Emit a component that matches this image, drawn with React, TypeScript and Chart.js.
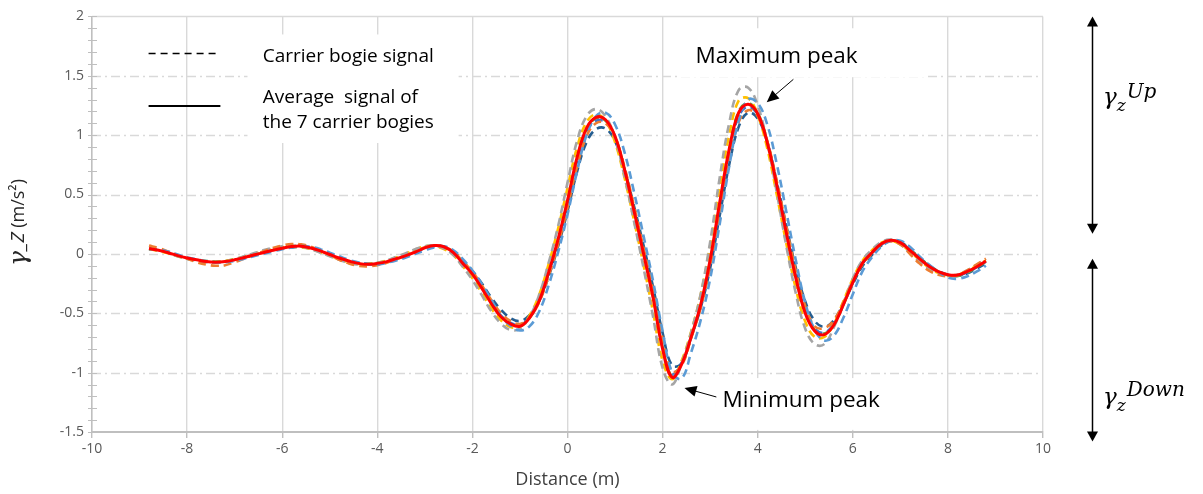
import React, { useEffect, useRef } from "react";
import { Chart, registerables } from "chart.js";

Chart.register(...registerables);

const FONT = "'Open Sans', 'Noto Sans', sans-serif";
const SERIF = "'DejaVu Serif', 'Liberation Serif', serif";

const distance = [
  -8.8, -8.6, -8.4, -8.2, -8, -7.8, -7.6, -7.4, -7.2, -7, -6.8, -6.6, -6.4, -6.2, -6, -5.8,
  -5.6, -5.4, -5.2, -5, -4.8, -4.6, -4.4, -4.2, -4, -3.8, -3.6, -3.4, -3.2, -3, -2.8, -2.6,
  -2.4, -2.2, -2, -1.8, -1.6, -1.4, -1.2, -1, -0.8, -0.6, -0.4, -0.2,
  0, 0.2, 0.4, 0.6, 0.8, 1, 1.2, 1.4, 1.6, 1.8, 2, 2.2,
  2.4, 2.6, 2.8, 3, 3.2, 3.4, 3.6, 3.8, 4, 4.2, 4.4, 4.6,
  4.8, 5, 5.2, 5.4, 5.6, 5.8, 6, 6.2, 6.4, 6.6, 6.8, 7,
  7.2, 7.4, 7.6, 7.8, 8, 8.2, 8.4, 8.6, 8.8,
];

const bogie1 = [
  0.04, 0.035, 0.02, -0.005, -0.03, -0.045, -0.06, -0.07, -0.07, -0.06, -0.04, -0.02, 0.0, 0.02, 0.04, 0.055,
  0.065, 0.06, 0.04, 0.01, -0.02, -0.05, -0.07, -0.085, -0.09, -0.075, -0.055, -0.03, 0.0, 0.03, 0.055, 0.065,
  0.03, -0.045, -0.14, -0.255, -0.39, -0.52, -0.605, -0.645, -0.61, -0.49, -0.27, 0.01,
  0.33, 0.69, 1.0, 1.16, 1.19, 1.09, 0.855, 0.52, 0.15, -0.23, -0.65, -1.0,
  -1.05, -0.83, -0.56, -0.21, 0.25, 0.735, 1.12, 1.3, 1.27, 1.09, 0.76, 0.36,
  -0.05, -0.41, -0.64, -0.73, -0.69, -0.54, -0.34, -0.15, -0.03, 0.06, 0.11, 0.11,
  0.06, -0.02, -0.09, -0.15, -0.2, -0.21, -0.19, -0.15, -0.1,
];

const bogie2 = [
  0.07, 0.05, 0.02, -0.01, -0.04, -0.07, -0.09, -0.1, -0.095, -0.07, -0.04, -0.01, 0.02, 0.05, 0.07, 0.083,
  0.08, 0.06, 0.025, -0.01, -0.05, -0.08, -0.1, -0.105, -0.095, -0.075, -0.045, -0.015, 0.02, 0.055, 0.07, 0.055,
  0.02, -0.065, -0.15, -0.265, -0.39, -0.5, -0.565, -0.59, -0.535, -0.41, -0.19, 0.075,
  0.39, 0.735, 0.99, 1.1, 1.1, 0.98, 0.73, 0.4, 0.05, -0.305, -0.715, -0.99,
  -0.94, -0.71, -0.455, -0.105, 0.35, 0.79, 1.11, 1.21, 1.16, 0.95, 0.615, 0.235,
  -0.14, -0.44, -0.61, -0.625, -0.56, -0.41, -0.235, -0.09, 0.0, 0.075, 0.105, 0.08,
  0.0, -0.08, -0.14, -0.175, -0.19, -0.18, -0.14, -0.09, -0.04,
];

const bogie3 = [
  0.05, 0.035, 0.01, -0.02, -0.04, -0.06, -0.07, -0.075, -0.065, -0.045, -0.02, 0.005, 0.03, 0.05, 0.065, 0.07,
  0.06, 0.04, 0.01, -0.02, -0.05, -0.075, -0.09, -0.09, -0.075, -0.055, -0.025, 0.005, 0.04, 0.065, 0.07, 0.045,
  -0.01, -0.11, -0.22, -0.35, -0.485, -0.586, -0.64, -0.63, -0.53, -0.35, -0.08, 0.23,
  0.6, 0.95, 1.16, 1.22, 1.16, 0.97, 0.65, 0.27, -0.12, -0.53, -0.96, -1.1,
  -0.92, -0.66, -0.34, 0.1, 0.64, 1.1, 1.38, 1.4, 1.25, 0.94, 0.52, 0.07,
  -0.33, -0.63, -0.76, -0.76, -0.62, -0.42, -0.21, -0.055, 0.035, 0.1, 0.12, 0.08,
  0.01, -0.06, -0.12, -0.16, -0.18, -0.175, -0.14, -0.095, -0.05,
];

const bogie4 = [
  0.04, 0.025, 0.005, -0.02, -0.04, -0.055, -0.065, -0.07, -0.06, -0.045, -0.025, 0.0, 0.02, 0.04, 0.055, 0.06,
  0.055, 0.04, 0.015, -0.015, -0.045, -0.07, -0.085, -0.085, -0.075, -0.055, -0.03, 0.0, 0.035, 0.065, 0.065, 0.04,
  -0.01, -0.105, -0.205, -0.33, -0.46, -0.56, -0.615, -0.615, -0.52, -0.35, -0.09, 0.21,
  0.555, 0.895, 1.11, 1.175, 1.12, 0.94, 0.64, 0.28, -0.095, -0.49, -0.9, -1.055,
  -0.9, -0.655, -0.345, 0.07, 0.565, 1.0, 1.29, 1.31, 1.17, 0.89, 0.5, 0.09,
  -0.29, -0.57, -0.7, -0.7, -0.59, -0.4, -0.21, -0.06, 0.03, 0.095, 0.11, 0.08,
  0.02, -0.05, -0.115, -0.16, -0.18, -0.175, -0.145, -0.1, -0.055,
];

const bogie5 = [
  0.04, 0.03, 0.012, -0.012, -0.035, -0.052, -0.066, -0.07, -0.064, -0.048, -0.028, -0.008, 0.012, 0.032, 0.048, 0.06,
  0.062, 0.048, 0.022, -0.008, -0.038, -0.062, -0.08, -0.086, -0.078, -0.062, -0.038, -0.012, 0.018, 0.05, 0.068, 0.058,
  0.012, -0.075, -0.165, -0.285, -0.41, -0.52, -0.58, -0.6, -0.535, -0.4, -0.165, 0.11,
  0.43, 0.78, 1.03, 1.12, 1.11, 0.98, 0.71, 0.37, 0.02, -0.35, -0.77, -1.01,
  -0.92, -0.7, -0.44, -0.07, 0.4, 0.85, 1.16, 1.24, 1.17, 0.94, 0.59, 0.2,
  -0.18, -0.48, -0.63, -0.665, -0.59, -0.43, -0.245, -0.085, 0.005, 0.08, 0.11, 0.095,
  0.03, -0.04, -0.105, -0.15, -0.178, -0.182, -0.155, -0.113, -0.063,
];

const bogie6 = [
  0.045, 0.03, 0.01, -0.015, -0.035, -0.05, -0.06, -0.065, -0.06, -0.045, -0.025, -0.005, 0.015, 0.035, 0.05, 0.06,
  0.06, 0.045, 0.02, -0.01, -0.04, -0.065, -0.08, -0.085, -0.08, -0.06, -0.035, -0.01, 0.02, 0.05, 0.068, 0.058,
  0.01, -0.08, -0.17, -0.29, -0.42, -0.53, -0.59, -0.61, -0.54, -0.4, -0.165, 0.115,
  0.44, 0.8, 1.05, 1.14, 1.12, 0.99, 0.71, 0.37, 0.01, -0.36, -0.79, -1.03,
  -0.93, -0.7, -0.43, -0.06, 0.42, 0.88, 1.2, 1.27, 1.19, 0.95, 0.59, 0.19,
  -0.19, -0.49, -0.64, -0.67, -0.6, -0.43, -0.24, -0.085, 0.01, 0.085, 0.115, 0.095,
  0.035, -0.035, -0.1, -0.15, -0.18, -0.185, -0.16, -0.115, -0.065,
];

const bogie7 = [
  0.04, 0.03, 0.01, -0.015, -0.04, -0.055, -0.065, -0.07, -0.065, -0.05, -0.03, -0.01, 0.01, 0.03, 0.045, 0.055,
  0.06, 0.05, 0.025, -0.005, -0.035, -0.06, -0.075, -0.085, -0.08, -0.065, -0.04, -0.015, 0.015, 0.045, 0.065, 0.06,
  0.02, -0.06, -0.145, -0.25, -0.37, -0.47, -0.54, -0.565, -0.515, -0.4, -0.195, 0.06,
  0.36, 0.69, 0.94, 1.05, 1.055, 0.95, 0.71, 0.4, 0.07, -0.28, -0.665, -0.94,
  -0.92, -0.7, -0.455, -0.12, 0.32, 0.75, 1.07, 1.19, 1.14, 0.94, 0.61, 0.24,
  -0.115, -0.4, -0.565, -0.615, -0.56, -0.42, -0.255, -0.105, -0.01, 0.07, 0.11, 0.1,
  0.04, -0.03, -0.095, -0.145, -0.175, -0.185, -0.165, -0.125, -0.08,
];

const average = [
  0.045, 0.03, 0.01, -0.015, -0.035, -0.05, -0.065, -0.07, -0.065, -0.05, -0.03, -0.01, 0.01, 0.03, 0.048, 0.062,
  0.065, 0.05, 0.025, -0.005, -0.035, -0.06, -0.08, -0.088, -0.08, -0.065, -0.04, -0.015, 0.015, 0.05, 0.07, 0.06,
  0.01, -0.08, -0.17, -0.29, -0.42, -0.53, -0.59, -0.61, -0.54, -0.4, -0.16, 0.12,
  0.45, 0.81, 1.06, 1.15, 1.13, 0.99, 0.71, 0.36, 0.0, -0.37, -0.8, -1.04,
  -0.93, -0.7, -0.43, -0.05, 0.43, 0.88, 1.19, 1.26, 1.18, 0.94, 0.58, 0.18,
  -0.2, -0.5, -0.65, -0.68, -0.6, -0.43, -0.24, -0.08, 0.01, 0.085, 0.115, 0.095,
  0.03, -0.04, -0.105, -0.15, -0.175, -0.178, -0.15, -0.11, -0.06,
];

const bogieSeries = [bogie1, bogie2, bogie3, bogie4, bogie5, bogie6, bogie7];
const bogieNames = ["Bogie 1", "Bogie 2", "Bogie 3", "Bogie 4", "Bogie 5", "Bogie 6", "Bogie 7"];
const bogieColors = ["#5B9BD5", "#ED7D31", "#A5A5A5", "#FFC000", "#4472C4", "#70AD47", "#255E91"];

const legendLabels = ["Carrier bogie signal", "Average  signal of", "the 7 carrier bogies"];
const maxLabel = "Maximum peak";
const minLabel = "Minimum peak";

function arrowHead(ctx: CanvasRenderingContext2D, x1: number, y1: number, x2: number, y2: number, len: number, half: number) {
  const a = Math.atan2(y2 - y1, x2 - x1);
  const bx = x2 - len * Math.cos(a);
  const by = y2 - len * Math.sin(a);
  ctx.beginPath();
  ctx.moveTo(x2, y2);
  ctx.lineTo(bx + half * Math.sin(a), by - half * Math.cos(a));
  ctx.lineTo(bx - half * Math.sin(a), by + half * Math.cos(a));
  ctx.closePath();
  ctx.fill();
}

function arrow(ctx: CanvasRenderingContext2D, x1: number, y1: number, x2: number, y2: number, len: number, half: number, both: boolean, lw: number) {
  const a = Math.atan2(y2 - y1, x2 - x1);
  const sx = both ? x1 + (len - 1) * Math.cos(a) : x1;
  const sy = both ? y1 + (len - 1) * Math.sin(a) : y1;
  const ex = x2 - (len - 1) * Math.cos(a);
  const ey = y2 - (len - 1) * Math.sin(a);
  ctx.lineWidth = lw;
  ctx.beginPath();
  ctx.moveTo(sx, sy);
  ctx.lineTo(ex, ey);
  ctx.stroke();
  arrowHead(ctx, x1, y1, x2, y2, len, half);
  if (both) arrowHead(ctx, x2, y2, x1, y1, len, half);
}

const overlayPlugin = {
  id: "overlay",
  beforeDraw(chart: any) {
    const { ctx, width, height } = chart;
    ctx.save();
    ctx.fillStyle = "#ffffff";
    ctx.fillRect(0, 0, width, height);
    ctx.restore();
  },
  beforeDatasetsDraw(chart: any) {
    const { ctx, chartArea: ca, scales } = chart;
    const xs = scales.x;
    const ys = scales.y;
    const px = (v: number) => xs.getPixelForValue(v);
    const py = (v: number) => ys.getPixelForValue(v);
    ctx.save();
    ys.ticks.forEach((t: any) => {
      if (t.value <= ys.min) return;
      const p = Math.round(py(t.value)) + 0.5;
      ctx.strokeStyle = "#d9d9d9";
      ctx.lineWidth = 1.4;
      ctx.setLineDash(t.value >= ys.max ? [] : [9, 4, 2, 4]);
      ctx.beginPath();
      ctx.moveTo(ca.left, p);
      ctx.lineTo(ca.right, p);
      ctx.stroke();
    });
    ctx.setLineDash([]);
    ctx.strokeStyle = "#bfbfbf";
    ctx.lineWidth = 1;
    for (let k = Math.round(ys.min * 10); k <= Math.round(ys.max * 10); k++) {
      const p = Math.round(py(k / 10)) + 0.5;
      ctx.beginPath();
      ctx.moveTo(ca.left - 4, p);
      ctx.lineTo(ca.left + 5, p);
      ctx.stroke();
    }
    ctx.fillStyle = "#ffffff";
    const boxes = [
      [-6.73, 1.848, -2.29, 0.934],
      [2.38, 1.9, 7.57, 1.488],
      [2.9, -1.046, 7.0, -1.482],
    ];
    boxes.forEach(([x1, y1, x2, y2]) => {
      ctx.fillRect(px(x1), py(y1), px(x2) - px(x1), py(y2) - py(y1));
    });
    ctx.restore();
  },
  afterDraw(chart: any) {
    const { ctx, chartArea: ca, scales } = chart;
    const xs = scales.x;
    const ys = scales.y;
    const px = (v: number) => xs.getPixelForValue(v);
    const py = (v: number) => ys.getPixelForValue(v);
    ctx.save();
    ctx.fillStyle = "#000000";
    ctx.strokeStyle = "#000000";

    ctx.lineWidth = 1.7;
    ctx.setLineDash([7, 5]);
    ctx.beginPath();
    ctx.moveTo(px(-8.81), Math.round(py(1.69)) + 0.5);
    ctx.lineTo(px(-7.34), Math.round(py(1.69)) + 0.5);
    ctx.stroke();
    ctx.setLineDash([]);
    ctx.lineWidth = 2;
    ctx.beginPath();
    ctx.moveTo(px(-8.81), Math.round(py(1.244)));
    ctx.lineTo(px(-7.3), Math.round(py(1.244)));
    ctx.stroke();

    ctx.font = `19px ${FONT}`;
    ctx.textAlign = "left";
    ctx.textBaseline = "alphabetic";
    ctx.fillText(legendLabels[0], px(-6.41), py(1.62));
    ctx.fillText(legendLabels[1], px(-6.41), py(1.27));
    ctx.fillText(legendLabels[2], px(-6.41), py(1.06));

    ctx.font = `22.5px ${FONT}`;
    ctx.fillText(maxLabel, px(2.69), py(1.605));
    ctx.fillText(minLabel, px(3.26), py(-1.29));
    arrow(ctx, px(4.75), py(1.47), px(4.19), py(1.278), 12, 5.5, false, 1);
    arrow(ctx, px(3.13), py(-1.205), px(2.46), py(-1.13), 12, 5.5, false, 1);

    const ax = ca.right + 49.5;
    arrow(ctx, ax, py(2.0), ax, py(0.17), 10, 5.5, true, 1.5);
    arrow(ctx, ax, py(-0.04), ax, py(-1.58), 10, 5.5, true, 1.5);

    const drawGamma = (yBase: number, sup: string, supBase: number) => {
      const gx = ca.right + 60;
      ctx.font = `italic 23px ${SERIF}`;
      ctx.fillText("γ", gx, yBase);
      const gw = ctx.measureText("γ").width;
      ctx.font = `italic 17px ${SERIF}`;
      ctx.fillText("z", gx + gw, yBase + 7);
      const zw = ctx.measureText("z").width;
      ctx.font = `italic 20px ${SERIF}`;
      ctx.fillText(sup, gx + gw + zw + 1, supBase);
    };
    drawGamma(py(1.26), "Up", py(1.315));
    drawGamma(py(-1.264), "Down", py(-1.2));

    // y-axis title
    ctx.save();
    ctx.translate(19, py(0.26));
    ctx.rotate(-Math.PI / 2);
    const p1 = "γ";
    const p2 = "_Z";
    const p3 = " (m/s²)";
    const f1 = `italic 25px ${SERIF}`;
    const f2 = `italic 19px ${FONT}`;
    const f3 = `18px ${FONT}`;
    ctx.font = f1;
    const w1 = ctx.measureText(p1).width;
    ctx.font = f2;
    const w2 = ctx.measureText(p2).width;
    ctx.font = f3;
    const w3 = ctx.measureText(p3).width;
    let cx = -(w1 + w2 + w3) / 2;
    ctx.fillStyle = "#262626";
    ctx.textBaseline = "middle";
    ctx.font = f1;
    ctx.fillText(p1, cx, 0);
    cx += w1 + 1;
    ctx.font = f2;
    ctx.fillText(p2, cx, 0);
    cx += w2;
    ctx.font = f3;
    ctx.fillText(p3, cx, 0);
    ctx.restore();

    ctx.restore();
  },
};

export default function App() {
  const canvasRef = useRef<HTMLCanvasElement | null>(null);

  useEffect(() => {
    if (!canvasRef.current) return;
    const datasets: any[] = [
      {
        label: "Average",
        data: distance.map((x, i) => ({ x, y: average[i] })),
        borderColor: "#FF0000",
        borderWidth: 3,
        pointRadius: 0,
        tension: 0.4,
        fill: false,
        order: 0,
      },
      ...bogieSeries.map((s, k) => ({
        label: bogieNames[k],
        data: distance.map((x, i) => ({ x, y: s[i] })),
        borderColor: bogieColors[k],
        borderWidth: 2.6,
        borderDash: [8, 5],
        pointRadius: 0,
        tension: 0.4,
        fill: false,
        order: 1,
      })),
    ];

    const chart = new Chart(canvasRef.current, {
      type: "line",
      data: { datasets },
      options: {
        animation: false,
        responsive: true,
        maintainAspectRatio: false,
        layout: { padding: { top: 15, right: 160, bottom: 0, left: 0 } },
        plugins: {
          legend: { display: false },
          tooltip: { enabled: false },
        },
        scales: {
          x: {
            type: "linear",
            min: -10,
            max: 10,
            ticks: {
              stepSize: 2,
              color: "#595959",
              font: { family: FONT, size: 14 },
              padding: 3,
              maxRotation: 0,
              callback: (v: any) => `${Number(v)}`,
            },
            grid: {
              color: "#d9d9d9",
              lineWidth: 1.4,
              drawTicks: true,
              tickLength: 6,
              tickColor: "#bfbfbf",
            },
            border: { color: "#bfbfbf", width: 2 },
            title: {
              display: true,
              text: "Distance (m)",
              color: "#404040",
              font: { family: FONT, size: 18 },
              padding: { top: 2, bottom: 3 },
            },
            afterFit: (s: any) => {
              s.height = 62;
            },
          },
          y: {
            type: "linear",
            min: -1.5,
            max: 2,
            ticks: {
              stepSize: 0.5,
              color: "#595959",
              font: { family: FONT, size: 14 },
              padding: 8,
              callback: (v: any) => `${Math.round(Number(v) * 10) / 10}`,
            },
            grid: { display: false, drawTicks: false },
            border: { color: "#bfbfbf", width: 1.5 },
            afterFit: (s: any) => {
              s.width = 92;
            },
          },
        },
      } as any,
      plugins: [overlayPlugin],
    });
    return () => chart.destroy();
  }, []);

  return (
    <div style={{ position: "fixed", left: 0, top: 0, width: 1203, height: 494, background: "#fff" }}>
      <canvas ref={canvasRef} />
    </div>
  );
}
